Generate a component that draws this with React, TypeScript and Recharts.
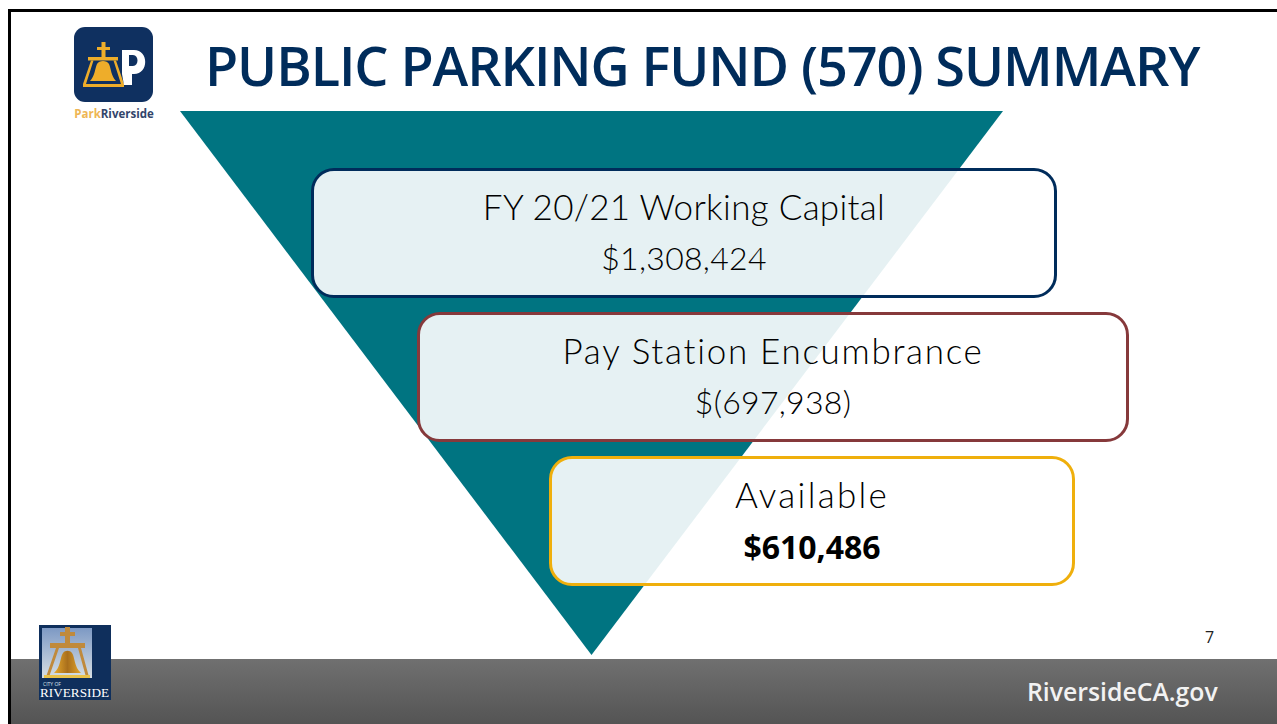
import React from "react";
import { FunnelChart, Funnel, Cell } from "recharts";

const titleText = "PUBLIC PARKING FUND (570) SUMMARY";
const stageNames = ["FY 20/21 Working Capital", "Pay Station Encumbrance", "Available"];
const stageAmounts = ["$1,308,424", "$(697,938)", "$610,486"];
const stageValues = [1308424, -697938, 610486];
const stageColors = ["#002c5b", "#86393b", "#efaf0c"];
const stageBoxes = [
  { left: 311, top: 168, width: 746, height: 130 },
  { left: 417, top: 312, width: 712, height: 130 },
  { left: 549, top: 456, width: 526, height: 130 },
];
const nameSpacing = [0.3, 1.7, 2.3];
const funnelData = [{ name: "Working capital", value: stageValues[0] }];

const bodyFont = "Lato, 'Open Sans', sans-serif";

function ParkLogo() {
  return (
    <svg width={100} height={100} viewBox="0 0 100 100" style={{ position: "absolute", left: 64, top: 24 }}>
      <rect x={10} y={3} width={79} height={75} rx={11} fill="#0f3060" />
      <g fill="#eead2a">
        <rect x={37.5} y={18} width={4} height={16} />
        <rect x={33} y={23} width={13} height={3} />
        <rect x={24} y={33} width={30} height={3.5} />
        <path d="M26 57 C31 52 31 44 33 40 C35 36 43 36 45 40 C47 44 47 52 52 57 Z" />
        <path d="M27 36.5 L19 60 L19 63 L60 63 L60 60 L52 36.5 L49.5 36.5 L57 60 L22 60 L29.5 36.5 Z" />
      </g>
      <path d="M58 26 H70 C85 26 85 50 70 50 H68 V61 H60 L58 50 Z M65 31 V42 H69 C75 42 75 31 69 31 Z" fill="#ffffff" fillRule="evenodd" />
      <text x={50} y={94} textAnchor="middle" fontFamily="'Open Sans', sans-serif" fontWeight={700} fontSize={11.5}>
        <tspan fill="#eeb655">Park</tspan>
        <tspan fill="#33456b">Riverside</tspan>
      </text>
    </svg>
  );
}

function CityLogo() {
  return (
    <svg width={72} height={75} viewBox="0 0 72 75" style={{ position: "absolute", left: 39, top: 625 }}>
      <defs>
        <linearGradient id="skyGrad" x1="0" y1="0" x2="0" y2="1">
          <stop offset="0" stopColor="#7d99c4" />
          <stop offset="1" stopColor="#d7dfe4" />
        </linearGradient>
        <linearGradient id="bellGrad" x1="0" y1="0" x2="1" y2="0">
          <stop offset="0" stopColor="#e6a92e" />
          <stop offset="0.5" stopColor="#a96f1c" />
          <stop offset="1" stopColor="#e2a52c" />
        </linearGradient>
      </defs>
      <rect width={72} height={75} fill="#0f2f5c" />
      <rect x={3} y={3} width={50} height={50} fill="url(#skyGrad)" />
      <g fill="#c08a3c">
        <rect x={26} y={2} width={5} height={17} />
        <rect x={21} y={7} width={15} height={4} />
        <rect x={11} y={18} width={35} height={5} />
        <path d="M17 23 L7 52 H10 L20 23 Z M39 23 L47 52 H50 L42 23 Z" />
      </g>
      <path d="M15 48 C22 42 21 32 24 28 C26 25 31 25 33 28 C36 32 35 42 42 48 Z" fill="url(#bellGrad)" />
      <rect x={5} y={50} width={46} height={3} fill="#e9c24a" />
      <text x={4} y={61} fill="#dfe6ef" fontSize={5} fontFamily="'Open Sans', sans-serif">CITY OF</text>
      <text x={1} y={72} fill="#ffffff" fontSize={12} fontFamily="'Liberation Serif', serif" textLength={69} lengthAdjust="spacingAndGlyphs">RIVERSIDE</text>
    </svg>
  );
}

export default function App() {
  return (
    <div style={{ position: "absolute", left: 0, top: 0, width: 1277, height: 724, overflow: "hidden", background: "#ffffff" }}>
      <div style={{ position: "absolute", left: 8, top: 9, width: 1269, height: 3, background: "#000" }} />
      <div style={{ position: "absolute", left: 8, top: 9, width: 3, height: 715, background: "#000" }} />
      <div
        style={{
          position: "absolute",
          left: 11,
          top: 659,
          width: 1266,
          height: 65,
          background: "linear-gradient(#707070, #545454)",
        }}
      />

      <div style={{ position: "absolute", left: 180, top: 111 }}>
        <FunnelChart width={823} height={544} margin={{ top: 0, right: 0, bottom: 0, left: 0 }}>
          <Funnel
            dataKey="value"
            data={funnelData}
            isAnimationActive={false}
            lastShapeType="triangle"
            stroke="none"
          >
            <Cell fill="#007481" />
          </Funnel>
        </FunnelChart>
      </div>

      <div
        style={{
          position: "absolute",
          left: 205,
          top: 27,
          whiteSpace: "nowrap",
          fontFamily: "'Open Sans', sans-serif",
          fontWeight: 600,
          fontSize: 54,
          letterSpacing: -1.08,
          lineHeight: "76px",
          color: "#002c5b",
        }}
      >
        {titleText}
      </div>

      {stageNames.map((name, i) => (
        <div
          key={name}
          style={{
            position: "absolute",
            boxSizing: "border-box",
            ...stageBoxes[i],
            border: `3px solid ${stageColors[i]}`,
            borderRadius: 23,
            background: "rgba(255,255,255,0.9)",
            textAlign: "center",
            color: "#000",
          }}
        >
          <div style={{ position: "absolute", left: 0, right: 0, top: 13, lineHeight: "44px", fontFamily: bodyFont, fontWeight: 300, fontSize: 35, letterSpacing: nameSpacing[i], whiteSpace: "nowrap" }}>
            {name}
          </div>
          <div
            style={{
              position: "absolute",
              left: 0,
              right: 0,
              top: i === 2 ? 66 : 65,
              lineHeight: "44px",
              whiteSpace: "nowrap",
              fontFamily: i === 2 ? "'Open Sans', sans-serif" : bodyFont,
              fontWeight: i === 2 ? 700 : 300,
              fontSize: 32,
              letterSpacing: i === 2 ? 0 : 0.3,
            }}
          >
            {stageAmounts[i]}
          </div>
        </div>
      ))}

      <ParkLogo />
      <CityLogo />

      <div style={{ position: "absolute", left: 1205, top: 627, fontFamily: "'Open Sans', sans-serif", fontSize: 16, lineHeight: "20px", color: "#222" }}>7</div>
      <div style={{ position: "absolute", left: 1027, top: 676, fontFamily: "'Open Sans', sans-serif", fontWeight: 600, fontSize: 24.8, lineHeight: "30px", color: "#f2f2f2", whiteSpace: "nowrap" }}>
        RiversideCA.gov
      </div>
    </div>
  );
}
